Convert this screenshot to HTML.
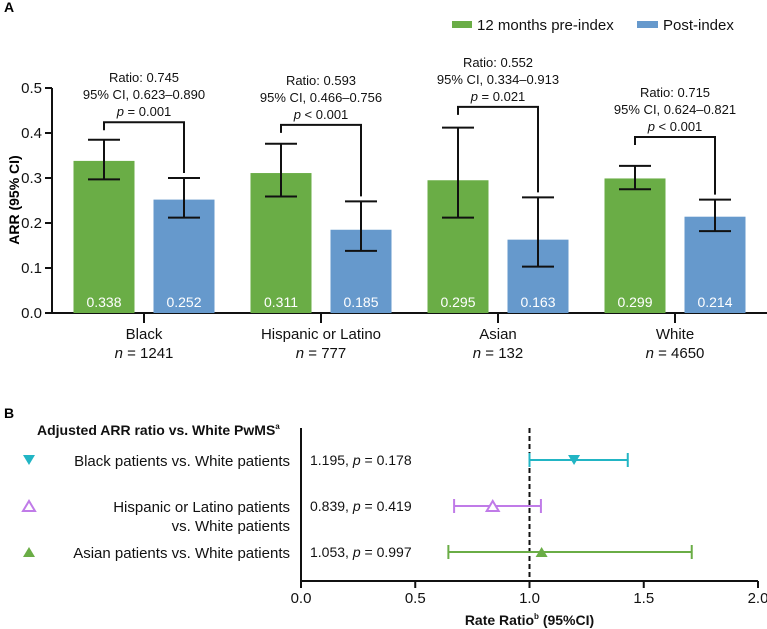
<!DOCTYPE html>
<html><head><meta charset="utf-8">
<style>
html,body{margin:0;padding:0;background:#fff;}
svg{display:block;font-family:"Liberation Sans",Arial,sans-serif;}
</style></head>
<body>
<svg id="chart" width="767" height="629" viewBox="0 0 767 629" xmlns="http://www.w3.org/2000/svg">
<text x="4" y="12" font-size="14" font-weight="bold">A</text>
<text x="4" y="418" font-size="14" font-weight="bold">B</text>
<g>
  <g>
    <rect x="452" y="21" width="20" height="7" fill="#6aad46"/>
    <text x="477" y="30" font-size="15" fill="#111">12 months pre-index</text>
  </g>
  <g>
    <rect x="637" y="21" width="21" height="7" fill="#6699cc"/>
    <text x="663" y="30" font-size="15" fill="#111">Post-index</text>
  </g>
</g>
<g id="pa"></g>
<g id="pb"></g>
</svg>
<script>
const categories = ["Black","Hispanic or Latino","Asian","White"];
const nLabels = ["1241","777","132","4650"];
const preValues = [0.338,0.311,0.295,0.299];
const preLow = [0.297,0.259,0.212,0.275];
const preHigh = [0.385,0.376,0.412,0.327];
const postValues = [0.252,0.185,0.163,0.214];
const postLow = [0.212,0.138,0.103,0.182];
const postHigh = [0.300,0.248,0.257,0.252];
const bracketLevel = [0.424,0.418,0.458,0.391];
const ratioText = ["0.745","0.593","0.552","0.715"];
const ciText = ["0.623–0.890","0.466–0.756","0.334–0.913","0.624–0.821"];
const pText = ["= 0.001","< 0.001","= 0.021","< 0.001"];
const yTicks = [0.0,0.1,0.2,0.3,0.4,0.5];

const fLabels = [["Black patients vs. White patients"],["Hispanic or Latino patients","vs. White patients"],["Asian patients vs. White patients"]];
const fEst = [1.195,0.839,1.053];
const fLow = [1.00,0.67,0.645];
const fHigh = [1.43,1.05,1.71];
const fP = ["0.178","0.419","0.997"];
const fTicks = [0.0,0.5,1.0,1.5,2.0];

const NS="http://www.w3.org/2000/svg";
function mk(parent,tag,attrs,text){const e=document.createElementNS(NS,tag);for(const k in attrs)e.setAttribute(k,attrs[k]);if(text!==undefined)e.textContent=text;parent.appendChild(e);return e;}

// Panel A
const pa=document.getElementById('pa');
const yA=v=>313-v*450;
const xCat=i=>144+i*177;
const barW=61, off=40;
let ax=mk(pa,'line',{x1:52,y1:88,x2:52,y2:313,stroke:'#111','stroke-width':2});

let bx=mk(pa,'line',{x1:46,y1:313,x2:767,y2:313,stroke:'#111','stroke-width':2});

yTicks.forEach(t=>{
  mk(pa,'line',{x1:45,y1:yA(t),x2:52,y2:yA(t),stroke:'#111','stroke-width':2});
  const tl=mk(pa,'text',{x:42,y:yA(t)+5,'font-size':15,'text-anchor':'end',fill:'#111'},t.toFixed(1));
  
  
});
const yt=mk(pa,'text',{x:0,y:0,'font-size':14,'font-weight':'bold','text-anchor':'middle',transform:'translate(19,200) rotate(-90)'},'ARR (95% CI)');


function errBar(g,x,lo,hi){
  mk(g,'line',{x1:x,y1:yA(lo),x2:x,y2:yA(hi),stroke:'#111','stroke-width':2});
  mk(g,'line',{x1:x-16,y1:yA(lo),x2:x+16,y2:yA(lo),stroke:'#111','stroke-width':2});
  mk(g,'line',{x1:x-16,y1:yA(hi),x2:x+16,y2:yA(hi),stroke:'#111','stroke-width':2});
}
categories.forEach((c,i)=>{
  const cx=xCat(i), gx=cx-off, px=cx+off;
  const g=mk(pa,'g',{});
  
  
  const b1=mk(g,'rect',{x:gx-barW/2,y:yA(preValues[i]),width:barW,height:313-yA(preValues[i]),fill:'#6aad46'});
  
  const b2=mk(g,'rect',{x:px-barW/2,y:yA(postValues[i]),width:barW,height:313-yA(postValues[i]),fill:'#6699cc'});
  
  mk(g,'text',{x:gx,y:307,'font-size':14,fill:'#fff','text-anchor':'middle'},preValues[i].toFixed(3));
  mk(g,'text',{x:px,y:307,'font-size':14,fill:'#fff','text-anchor':'middle'},postValues[i].toFixed(3));
  errBar(g,gx,preLow[i],preHigh[i]);
  errBar(g,px,postLow[i],postHigh[i]);
  const by=yA(bracketLevel[i]);
  const br=mk(g,'polyline',{points:`${gx},${Math.min(yA(preHigh[i])-5,by+8)} ${gx},${by} ${px},${by} ${px},${yA(postHigh[i])-5}`,fill:'none',stroke:'#111','stroke-width':2});
  
  const mx=(gx+px)/2;
  mk(g,'text',{x:mx,y:by-40,'font-size':13,'text-anchor':'middle',fill:'#111'},'Ratio: '+ratioText[i]);
  mk(g,'text',{x:mx,y:by-23,'font-size':13,'text-anchor':'middle',fill:'#111'},'95% CI, '+ciText[i]);
  const pt=mk(g,'text',{x:mx,y:by-6,'font-size':13,'text-anchor':'middle',fill:'#111'});
  mk(pt,'tspan',{'font-style':'italic'},'p');
  mk(pt,'tspan',{},' '+pText[i]);
  mk(g,'line',{x1:cx,y1:313,x2:cx,y2:323,stroke:'#111','stroke-width':2});
  const cl=mk(g,'text',{x:cx,y:339,'font-size':15,'text-anchor':'middle',fill:'#111'},c);
  
  const nl=mk(g,'text',{x:cx,y:358,'font-size':15,'text-anchor':'middle',fill:'#111'});
  mk(nl,'tspan',{'font-style':'italic'},'n');
  mk(nl,'tspan',{},' = '+nLabels[i]);
});

// Panel B
const pb=document.getElementById('pb');
const xB=v=>301+v*228.5;
const rowY=[460,506,552];
const colors=['#22b5c4','#c07be8','#6aad46'];
const st=mk(pb,'text',{x:37,y:435,'font-size':14,'font-weight':'bold',fill:'#111'});

mk(st,'tspan',{},'Adjusted ARR ratio vs. White PwMS');
mk(st,'tspan',{'font-size':8,dy:-6},'a');
const fy=mk(pb,'line',{x1:301,y1:428,x2:301,y2:581,stroke:'#111','stroke-width':2});

const fx=mk(pb,'line',{x1:301,y1:581,x2:xB(2),y2:581,stroke:'#111','stroke-width':2});

fTicks.forEach(t=>{
  mk(pb,'line',{x1:xB(t),y1:581,x2:xB(t),y2:588,stroke:'#111','stroke-width':2});
  const tl=mk(pb,'text',{x:xB(t),y:603,'font-size':15,'text-anchor':'middle',fill:'#111'},t.toFixed(1));
  
  
});
const ref=mk(pb,'line',{x1:xB(1),y1:428,x2:xB(1),y2:581,stroke:'#111','stroke-width':2,'stroke-dasharray':'5,3'});

const xt=mk(pb,'text',{x:xB(1),y:625,'font-size':14,'font-weight':'bold','text-anchor':'middle',fill:'#111'});

mk(xt,'tspan',{},'Rate Ratio');
mk(xt,'tspan',{'font-size':8,dy:-6},'b');
mk(xt,'tspan',{dy:6},' (95%CI)');
fLabels.forEach((lines,i)=>{
  const y=rowY[i], c=colors[i];
  const g=mk(pb,'g',{});
  
  
  lines.forEach((l,j)=>mk(g,'text',{x:290,y:y+6+j*19,'font-size':15,'text-anchor':'end',fill:'#111'},l));
  // legend marker
  if(i===0) mk(g,'polygon',{points:`23,${y-5} 35,${y-5} 29,${y+5}`,fill:c});
  else if(i===1) mk(g,'polygon',{points:`23,${y+5} 35,${y+5} 29,${y-5}`,fill:'none',stroke:c,'stroke-width':2});
  else mk(g,'polygon',{points:`23,${y+5} 35,${y+5} 29,${y-5}`,fill:c});
  const vt=mk(g,'text',{x:310,y:y+5,'font-size':14,fill:'#111'});
  mk(vt,'tspan',{},fEst[i].toFixed(3)+', ');
  mk(vt,'tspan',{'font-style':'italic'},'p');
  mk(vt,'tspan',{},' = '+fP[i]);
  const ci=mk(g,'line',{x1:xB(fLow[i]),y1:y,x2:xB(fHigh[i]),y2:y,stroke:c,'stroke-width':2});
  
  mk(g,'line',{x1:xB(fLow[i]),y1:y-7,x2:xB(fLow[i]),y2:y+7,stroke:c,'stroke-width':2});
  mk(g,'line',{x1:xB(fHigh[i]),y1:y-7,x2:xB(fHigh[i]),y2:y+7,stroke:c,'stroke-width':2});
  const ex=xB(fEst[i]);
  let m;
  if(i===0) m=mk(g,'polygon',{points:`${ex-6},${y-5} ${ex+6},${y-5} ${ex},${y+5}`,fill:c});
  else if(i===1) m=mk(g,'polygon',{points:`${ex-6},${y+5} ${ex+6},${y+5} ${ex},${y-5}`,fill:'#fff',stroke:c,'stroke-width':2});
  else m=mk(g,'polygon',{points:`${ex-6},${y+5} ${ex+6},${y+5} ${ex},${y-5}`,fill:c});
  
  
});
</script>
</body></html>
